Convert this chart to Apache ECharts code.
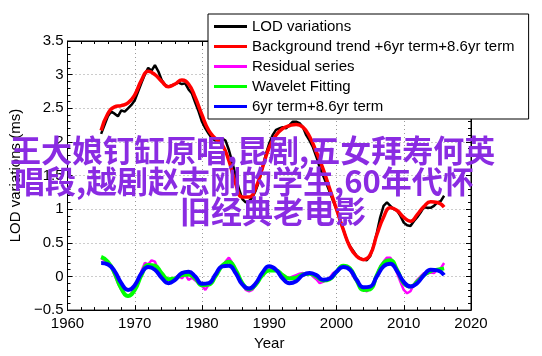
<!DOCTYPE html>
<html>
<head>
<meta charset="utf-8">
<script src="https://cdn.jsdelivr.net/npm/echarts@6/dist/echarts.min.js"></script>
<style>
html,body{margin:0;padding:0;background:#fff;}
#chart{width:542px;height:356px;}
</style>
</head>
<body>
<div id="chart"></div>
<script>
// ---- data ----
const seriesNames = ['LOD variations', 'Background trend +6yr term+8.6yr term', 'Residual series', 'Wavelet Fitting', '6yr term+8.6yr term'];
const titleLines = ['王大娘钉缸原唱,昆剧,五女拜寿何英', '唱段,越剧赵志刚的学生,60年代怀', '旧经典老电影'];
const xTicks = [1960, 1970, 1980, 1990, 2000, 2010, 2020];
const yTicks = [-0.5, 0, 0.5, 1, 1.5, 2, 2.5, 3, 3.5];

// half-year sampled series, starting 1965.0
const halfYearStart = 1965.0;
const lodVariations = [
  2.12, 2.25, 2.38, 2.45, 2.42, 2.38, 2.47, 2.45, 2.50, 2.55,
  2.62, 2.75, 2.88, 3.00, 3.10, 3.06, 3.14, 3.05, 2.92, 2.85,
  2.82, 2.84, 2.86, 2.88, 2.86, 2.87, 2.78, 2.72, 2.58, 2.45,
  2.30, 2.20, 2.12, 2.05, 2.02, 2.04, 2.05, 2.02, 1.88, 1.70,
  1.50, 1.30, 1.15, 1.10, 1.12, 1.18, 1.28, 1.42, 1.62, 1.82,
  1.98, 2.10, 2.18, 2.20, 2.22, 2.20, 2.25, 2.30, 2.30, 2.28,
  2.22, 2.10, 2.02, 1.92, 1.78, 1.62, 1.50, 1.38, 1.25, 1.12,
  1.00, 0.85, 0.70, 0.55, 0.45, 0.38, 0.30, 0.27, 0.25, 0.24,
  0.30, 0.45, 0.65, 0.88, 1.05, 1.10, 1.05, 1.00, 0.98, 0.90,
  0.80, 0.76, 0.75, 0.82, 0.88, 0.95, 1.03, 1.02, 1.02, 1.05,
  1.10, 1.12, 1.20
];
const residualSeries = [
  0.27, 0.24, 0.20, 0.15, 0.02, -0.10, -0.20, -0.27, -0.30, -0.25,
  -0.15, -0.05, 0.08, 0.20, 0.18, 0.24, 0.22, 0.10, 0.04, -0.02,
  -0.05, -0.06, -0.02, 0.02, -0.03, 0.03, -0.05, -0.02, -0.06, -0.10,
  -0.14, -0.20, -0.12, -0.08, 0.00, 0.08, 0.15, 0.22, 0.28, 0.20,
  0.10, -0.02, -0.10, -0.20, -0.22, -0.20, -0.12, -0.05, 0.05, 0.08,
  0.10, 0.12, 0.10, 0.04, 0.03, -0.01, -0.02, 0.00, 0.02, 0.04,
  0.05, 0.03, 0.05, 0.00, -0.04, -0.10, -0.08, -0.05, -0.02, 0.05,
  0.08, 0.12, 0.16, 0.15, 0.10, 0.00, -0.08, -0.15, -0.20, -0.22,
  -0.18, -0.10, 0.02, 0.15, 0.22, 0.28, 0.28, 0.18, 0.05, -0.08,
  -0.20, -0.25, -0.22, -0.12, -0.05, 0.00, 0.05, 0.04, 0.06, 0.05,
  0.10, 0.12, 0.20
];

// yearly sampled smooth series, starting 1965
const yearStart = 1965;
const backgroundTrend = [
  2.17, 2.42, 2.52, 2.54, 2.58, 2.70, 2.92, 3.05, 3.00, 2.90,
  2.82, 2.86, 2.92, 2.86, 2.66, 2.40, 2.17, 2.05, 1.96, 1.72,
  1.38, 1.18, 1.18, 1.32, 1.62, 1.92, 2.10, 2.20, 2.24, 2.26,
  2.22, 2.08, 1.85, 1.60, 1.30, 1.00, 0.70, 0.44, 0.30, 0.25,
  0.32, 0.62, 0.88, 1.02, 0.98, 0.88, 0.82, 0.92, 1.04, 1.11,
  1.10, 1.03
];
const waveletFitting = [
  0.29, 0.22, 0.05, -0.18, -0.29, -0.20, 0.02, 0.17, 0.16, 0.05,
  -0.04, -0.03, 0.02, 0.03, -0.03, -0.13, -0.12, 0.00, 0.16, 0.22,
  0.10, -0.10, -0.19, -0.12, 0.02, 0.09, 0.09, 0.02, -0.03, -0.02,
  0.03, 0.04, 0.00, -0.06, -0.04, 0.07, 0.16, 0.12, -0.06, -0.20,
  -0.19, 0.02, 0.20, 0.24, 0.10, -0.10, -0.15, -0.08, 0.02, 0.08,
  0.10, 0.12
];
const sixPlusEight = [
  0.20, 0.18, 0.08, -0.10, -0.20, -0.13, 0.05, 0.14, 0.10, -0.02,
  -0.10, -0.05, 0.05, 0.07, 0.00, -0.11, -0.10, 0.03, 0.15, 0.16,
  0.05, -0.12, -0.18, -0.10, 0.06, 0.15, 0.10, -0.03, -0.10, -0.07,
  0.02, 0.05, 0.02, -0.05, -0.03, 0.07, 0.14, 0.10, -0.05, -0.16,
  -0.15, 0.00, 0.15, 0.19, 0.08, -0.08, -0.15, -0.10, 0.02, 0.10,
  0.09, 0.02
];

// ---- build ----
function pairs(start, step, arr){ return arr.map((v,i)=>[start + i*step, v]); }
const FONT = '"Liberation Sans", Arial, Helvetica, sans-serif';
const chart = echarts.init(document.getElementById('chart'), null, {renderer:'canvas'});

const axisCommon = {
  axisLine:{show:true, onZero:false, lineStyle:{color:'#000', width:1}},
  axisTick:{show:true, inside:true, length:5, lineStyle:{color:'#000'}},
  minorTick:{show:true, splitNumber:5, length:3, lineStyle:{color:'#000'}},
};

chart.setOption({
  animation:false,
  backgroundColor:'#fff',
  textStyle:{fontFamily:FONT},
  grid:{left:55, right:71, top:41, bottom:42, show:true, borderColor:'#000', borderWidth:1, backgroundColor:'transparent'},
  legend:{
    data:seriesNames,
    orient:'vertical',
    left:208, top:14,
    icon:'rect', itemWidth:33, itemHeight:3, itemGap:5,
    padding:[5, 14, 5, 6],
    borderColor:'#000', borderWidth:1, backgroundColor:'#fff', borderRadius:0,
    textStyle:{fontSize:15, color:'#000', fontFamily:FONT, padding:[0,0,0,0]},
    z:10
  },
  xAxis:[
    Object.assign({type:'value', min:xTicks[0], max:xTicks[xTicks.length-1], interval:10,
      name:'Year', nameLocation:'middle', nameGap:23,
      nameTextStyle:{fontSize:15, color:'#000', fontFamily:FONT},
      axisLabel:{fontSize:15, color:'#000', margin:6, fontFamily:FONT, formatter:v=>String(v)},
      splitLine:{show:true, lineStyle:{color:'#999', type:[1,3], width:1}}}, axisCommon),
    Object.assign({type:'value', position:'top', min:xTicks[0], max:xTicks[xTicks.length-1], interval:10,
      axisLabel:{show:false}, splitLine:{show:false}}, axisCommon)
  ],
  yAxis:[
    Object.assign({type:'value', min:yTicks[0], max:yTicks[yTicks.length-1], interval:0.5,
      name:'LOD variations (ms)', nameLocation:'middle', nameGap:28,
      nameTextStyle:{fontSize:15, color:'#000', fontFamily:FONT},
      axisLabel:{fontSize:15, color:'#000', margin:4, fontFamily:FONT,
        formatter:v=> (v<0 ? '\u2212'+Math.abs(v) : String(v))},
      splitLine:{show:true, lineStyle:{color:'#999', type:[1,3], width:1}}}, axisCommon),
    Object.assign({type:'value', position:'right', min:yTicks[0], max:yTicks[yTicks.length-1], interval:0.5,
      axisLabel:{show:false}, splitLine:{show:false}}, axisCommon)
  ],
  series:[
    {name:seriesNames[0], type:'line', data:pairs(halfYearStart,0.5,lodVariations), showSymbol:false, symbol:'none',
      lineStyle:{color:'#000', width:2.5}, itemStyle:{color:'#000'}, z:2},
    {name:seriesNames[1], type:'line', data:pairs(yearStart,1,backgroundTrend), smooth:0.5, showSymbol:false, symbol:'none',
      lineStyle:{color:'#ff0000', width:3.5}, itemStyle:{color:'#ff0000'}, z:3},
    {name:seriesNames[2], type:'line', data:pairs(halfYearStart,0.5,residualSeries), showSymbol:false, symbol:'none',
      lineStyle:{color:'#ff00ff', width:2.5}, itemStyle:{color:'#ff00ff'}, z:2},
    {name:seriesNames[3], type:'line', data:pairs(yearStart,1,waveletFitting), smooth:0.5, showSymbol:false, symbol:'none',
      lineStyle:{color:'#00ff00', width:4}, itemStyle:{color:'#00ff00'}, z:3},
    {name:seriesNames[4], type:'line', data:pairs(yearStart,1,sixPlusEight), smooth:0.5, showSymbol:false, symbol:'none',
      lineStyle:{color:'#0000ff', width:4}, itemStyle:{color:'#0000ff'}, z:4}
  ],
  graphic:[
    {type:'text', x:10, y:150, z:100, style:{text:titleLines[0], fill:'#8A2BE2', fontSize:31, fontWeight:'bold', fontFamily:'"Noto Sans CJK SC", sans-serif', verticalAlign:'middle', textVerticalAlign:'middle'}},
    {type:'text', x:14, y:181, z:100, style:{text:titleLines[1], fill:'#8A2BE2', fontSize:31, fontWeight:'bold', fontFamily:'"Noto Sans CJK SC", sans-serif', verticalAlign:'middle', textVerticalAlign:'middle'}},
    {type:'text', x:180, y:211, z:100, style:{text:titleLines[2], fill:'#8A2BE2', fontSize:31, fontWeight:'bold', fontFamily:'"Noto Sans CJK SC", sans-serif', verticalAlign:'middle', textVerticalAlign:'middle'}}
  ]
});
</script>
</body>
</html>
